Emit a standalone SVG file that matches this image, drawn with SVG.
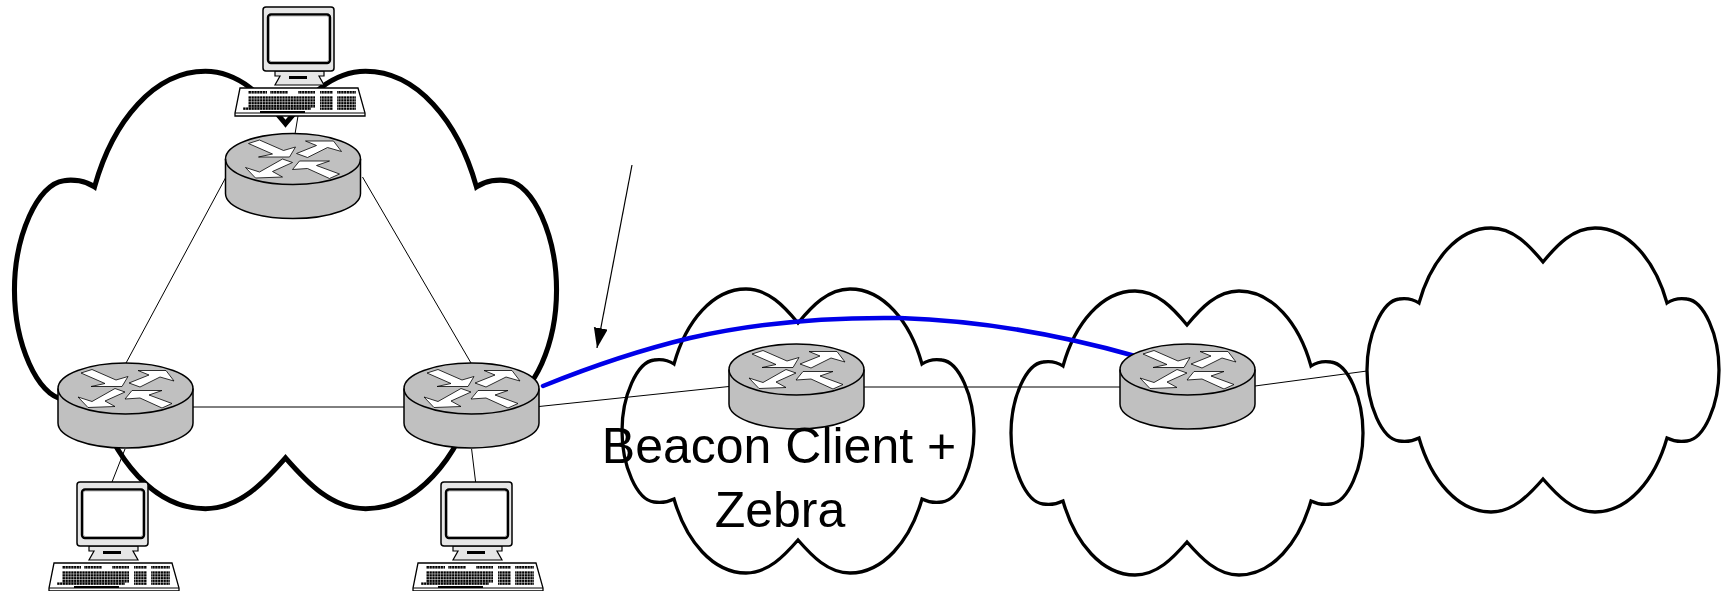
<svg xmlns="http://www.w3.org/2000/svg" width="1721" height="591" viewBox="0 0 1721 591">
<style>
.cloud{fill:#fff;stroke:#000;stroke-width:3.3;stroke-linejoin:miter}
.link{fill:none;stroke:#000;stroke-width:1}
.body{fill:#c0c0c0;stroke:#000;stroke-width:1.5}
.arr{fill:#fff;stroke:#000;stroke-width:.8;stroke-linejoin:miter}
.label{font-family:"Liberation Sans",Arial,sans-serif;font-size:50px;fill:#000;text-anchor:middle}
</style>
<defs>
<marker id="head" markerUnits="userSpaceOnUse" markerWidth="22" markerHeight="16" refX="20" refY="7" orient="auto"><path d="M0,0L20,7L0,14Z" fill="#000"/></marker>
<pattern id="keys" width="2.800" height="2.800" patternUnits="userSpaceOnUse"><rect width="2.300" height="2.300" fill="#000"/></pattern>
<path id="cloudShape" d="M0,-108C-14,-125-30,-142-52,-142C-85,-142-112,-110-124,-67C-130,-71-138,-72-144,-71C-161,-69-176,-35-176,0C-176,35-161,69-144,71C-138,72-130,71-124,68C-112,110-85,142-52,142C-30,142-14,125 0,109C14,125 30,142 52,142C85,142 112,110 124,68C130,71 138,72 144,71C161,69 176,35 176,0C176,-35 161,-69 144,-71C138,-72 130,-71 124,-67C112,-110 85,-142 52,-142C30,-142 14,-125 0,-108Z"/>
<g id="router">
<path class="body" d="M0,25.500A67.500,25.500 0 0 1 135,25.500V60A67.500,25 0 0 1 0,60Z"/>
<path fill="none" stroke="#000" stroke-width="1.500" d="M0,25.500A67.500,25.500 0 0 0 135,25.500"/>
<path class="arr" d="M23,10L34,6.500L58,17L70,13.500L64,23.500L33,23.500L47,20.500Z"/>
<path class="arr" d="M71,20L91,12L80,7.500L108,7.500L116,18L102,14L82,24Z"/>
<path class="arr" d="M57,25.500L67,29L47,38L57,43.500L30,44.500L20,34L34,38.500Z"/>
<path class="arr" d="M67,36L74,27.500L104,27.500L91,32L114,40.500L104,45L82,35Z"/>
</g>
<g id="computer">
<path d="M12,64H61V69H56L61,78H12L17,69H12Z" fill="#e6e6e6" stroke="#000" stroke-width="1.200"/>
<rect x="26" y="69" width="18" height="3" fill="#000"/>
<rect x="0" y="0" width="71" height="64" rx="3" fill="#e6e6e6" stroke="#000" stroke-width="1.500"/>
<rect x="5" y="7.500" width="62" height="48.500" rx="3" fill="#fff" stroke="#000" stroke-width="2.400"/>
<rect x="6.500" y="9" width="59" height="45.500" rx="2" fill="none" stroke="#999" stroke-width=".7"/>
<path d="M-23,81H95L102,106V109H-28V106Z" fill="#fff" stroke="#000" stroke-width="1.300"/>
<path d="M-28,106H102" stroke="#000" stroke-width="1"/>
<g fill="url(#keys)">
<rect x="-15" y="84" width="19" height="3"/><rect x="7" y="84" width="18" height="3"/><rect x="35" y="84" width="17" height="3"/><rect x="57" y="84" width="13" height="3"/><rect x="74" y="84" width="19" height="3"/>
<rect x="-15" y="89" width="67" height="12"/><rect x="57" y="89" width="13" height="14"/><rect x="74" y="89" width="19" height="14"/>
<rect x="-20" y="100" width="68" height="3"/>
</g>
<rect x="-3" y="104" width="45" height="2" fill="#000"/>
</g>
</defs>
<g id="cloud-1"><use href="#cloudShape" class="cloud" transform="translate(285.500,290) scale(1.540)"/></g>
<g id="cloud-2"><use href="#cloudShape" class="cloud" transform="translate(798,431)"/></g>
<g id="cloud-3"><use href="#cloudShape" class="cloud" transform="translate(1187,433)"/></g>
<g id="cloud-4"><use href="#cloudShape" class="cloud" transform="translate(1543,370)"/></g>
<g id="connectors">
<path class="link" d="M226,177L125.500,364"/>
<path class="link" d="M362.500,177L471.600,364"/>
<path class="link" d="M193,407H404"/>
<path class="link" d="M539,406.500L729,386.500"/>
<path class="link" d="M864,387H1120"/>
<path class="link" d="M1255,386L1367,371"/>
<path class="link" d="M298,116L295,134"/>
<path class="link" d="M125,449L112,482"/>
<path class="link" d="M471.600,449L475.600,482"/>
<path fill="none" stroke="#000" stroke-width="1.200" marker-end="url(#head)" d="M632,165L597,348"/>
<path fill="none" stroke="#0000e8" stroke-width="4.500" stroke-linecap="round" stroke-linejoin="round" d="M543,386C590,367 640,350 690,338C760,322 830,317 900,318C960,320 1040,329 1135,356"/>
</g>
<g id="router-1"><use href="#router" transform="translate(225.500,133.500)"/></g>
<g id="router-2"><use href="#router" transform="translate(58,363)"/></g>
<g id="router-3"><use href="#router" transform="translate(404,363)"/></g>
<g id="router-4"><use href="#router" transform="translate(729,344)"/></g>
<g id="router-5"><use href="#router" transform="translate(1120,344)"/></g>
<g id="computer-1"><use href="#computer" transform="translate(263,7)"/></g>
<g id="computer-2"><use href="#computer" transform="translate(77,482)"/></g>
<g id="computer-3"><use href="#computer" transform="translate(441,482)"/></g>
<g id="label"><text class="label" x="779" y="463">Beacon Client +</text><text class="label" x="780" y="527">Zebra</text></g>
</svg>
